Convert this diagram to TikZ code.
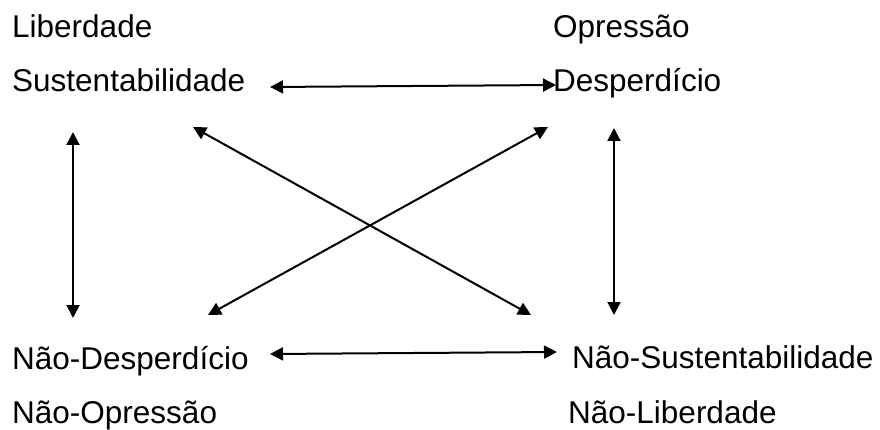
\documentclass[tikz,border=0pt]{standalone}
\usepackage{fontspec}
\setmainfont{Liberation Sans}
\usetikzlibrary{arrows.meta}
\begin{document}
\begin{tikzpicture}[x=1pt,y=-1pt,
  lbl/.style={anchor=base west,inner sep=0pt,font=\fontsize{31.5}{38}\selectfont},
  dbl/.style={line width=2pt,{Triangle[length=13pt,width=13pt]}-{Triangle[length=13pt,width=13pt]}}]
\useasboundingbox (0,0) rectangle (880,430);
\node[lbl] (lib) at (12,38) {Liberdade};
\node[lbl] (sus) at (12,92) {Sustentabilidade};
\node[lbl] (opr) at (553,38) {Opressão};
\node[lbl] (des) at (553,92) {Desperdício};
\node[lbl] (ndes) at (12,369) {Não-Desperdício};
\node[lbl] (nopr) at (12,423) {Não-Opressão};
\node[lbl] (nsus) at (572,368) {Não-Sustentabilidade};
\node[lbl] (nlib) at (568,423) {Não-Liberdade};
\coordinate (t1) at (270,87);
\coordinate (t2) at (556,85);
\coordinate (l1) at (73,132);
\coordinate (l2) at (73,318);
\coordinate (r1) at (614,128);
\coordinate (r2) at (614,315);
\coordinate (d1a) at (193,127);
\coordinate (d1b) at (531,315);
\coordinate (d2a) at (548,127);
\coordinate (d2b) at (208,315);
\coordinate (b1) at (270,354);
\coordinate (b2) at (557,352);
\draw[dbl] (t1) -- (t2);
\draw[dbl] (l1) -- (l2);
\draw[dbl] (r1) -- (r2);
\draw[dbl] (d1a) -- (d1b);
\draw[dbl] (d2a) -- (d2b);
\draw[dbl] (b1) -- (b2);
\end{tikzpicture}
\end{document}
